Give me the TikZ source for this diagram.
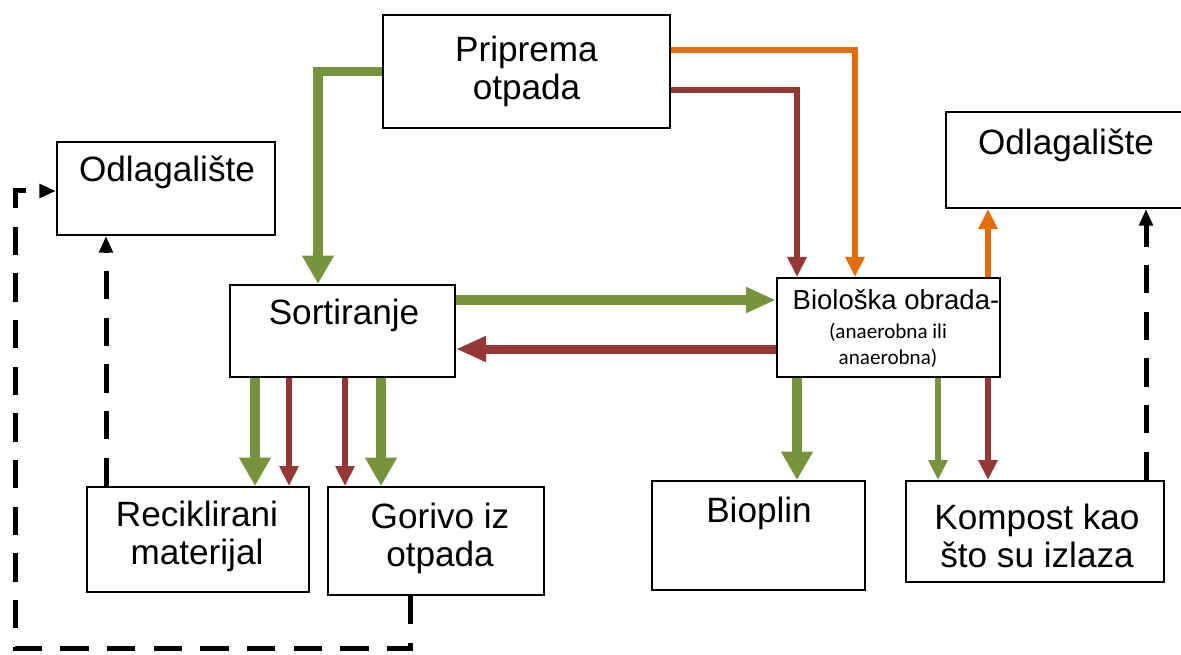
\documentclass[tikz,border=0pt]{standalone}
\usepackage{fontspec}
\setmainfont{Liberation Sans}
\newfontfamily\carlito{Carlito}
\usetikzlibrary{arrows.meta,fit}

\definecolor{grn}{HTML}{77933C}
\definecolor{brd}{HTML}{953735}
\definecolor{org}{HTML}{E46C0A}

\begin{document}
\begin{tikzpicture}[x=0.03cm, y=-0.03cm,
  box/.style={draw, line width=0.06cm, inner sep=0pt},
  txt/.style={font=\fontsize{30}{32.5}\selectfont, align=center, inner sep=0pt},
  thickarr/.style={line width=0.29cm, -{Triangle[width=0.9cm,length=0.85cm]}},
  midarr/.style={line width=0.27cm, -{Triangle[width=0.72cm,length=0.9cm]}},
  thinarr/.style={line width=0.2cm, -{Triangle[width=0.55cm,length=0.6cm]}},
  dasharr/.style={line width=0.15cm, dash pattern=on 0.85cm off 0.55cm, -{Triangle[width=0.4cm,length=0.5cm]}}]
\useasboundingbox (0,0) rectangle (1181,655);
\node[box, fit={(383,15) (670,128)}] (prip) {};
\node[txt] (pripT) at (prip.center) {Priprema\\otpada};
\node[box, fit={(57,142) (275,235)}] (odlL) {};
\node[txt] (odlLT) at (167,172) {Odlagali\v{s}te};
\node[box, fit={(946,112) (1195,208)}] (odlR) {};
\node[txt] (odlRT) at (1066,145) {Odlagali\v{s}te};
\node[box, fit={(230,285) (455,377)}] (sort) {};
\node[txt] (sortT) at (344,315) {Sortiranje};
\node[box, fit={(777,278) (1000,377)}] (bio) {};
\node[txt, font=\fontsize{23.5}{26}\selectfont] (bioT) at (896,300) {Biolo\v{s}ka obrada-};
\node[txt, font=\carlito\fontsize{18}{22}\selectfont] (bioS) at (888,345) {(anaerobna ili\\anaerobna)};
\node[box, fit={(87,487) (309,592)}] (rec) {};
\node[txt] (recT) at (197,536) {Reciklirani\\materijal};
\node[box, fit={(328,487) (544,595)}] (gor) {};
\node[txt] (gorT) at (440,538) {Gorivo iz\\otpada};
\node[box, fit={(652,481) (865,590)}] (biop) {};
\node[txt] (biopT) at (759,513) {Bioplin};
\node[box, fit={(906,481) (1164,582)}] (komp) {};
\node[txt] (kompT) at (1037,536) {Kompost kao\\\v{s}to su izlaza};
\coordinate (bend) at (15,648);

\draw[thickarr, grn] (prip.west) -| (318,0 |- sort.north);
\draw[thinarr, org] (prip.east |- 0,50) -| (855,0 |- bio.north);
\draw[thinarr, brd] (prip.east |- 0,90) -| (797,0 |- bio.north);
\draw[midarr, grn] (sort.east |- 0,300) -- (bio.west |- 0,300);
\draw[midarr, brd] (bio.west |- 0,349) -- (sort.east |- 0,349);
\draw[thickarr, grn] (255,0 |- sort.south) -- (255,0 |- rec.north);
\draw[thinarr, brd] (289,0 |- sort.south) -- (289,0 |- rec.north);
\draw[thinarr, brd] (345,0 |- sort.south) -- (345,0 |- gor.north);
\draw[thickarr, grn] (381,0 |- sort.south) -- (381,0 |- gor.north);
\draw[thickarr, grn] (797,0 |- bio.south) -- (797,0 |- biop.north);
\draw[thinarr, grn] (938,0 |- bio.south) -- (938,0 |- komp.north);
\draw[thinarr, brd] (988,0 |- bio.south) -- (988,0 |- komp.north);
\draw[thinarr, org] (988,0 |- bio.north) -- (988,0 |- odlR.south);
\draw[dasharr] (1146,0 |- komp.north) -- (1146,0 |- odlR.south);
\draw[dasharr] (106,0 |- rec.north) -- (106,0 |- odlL.south);
\draw[dasharr] (410,0 |- gor.south) |- (bend) |- (odlL.west |- 0,191);
\end{tikzpicture}
\end{document}
